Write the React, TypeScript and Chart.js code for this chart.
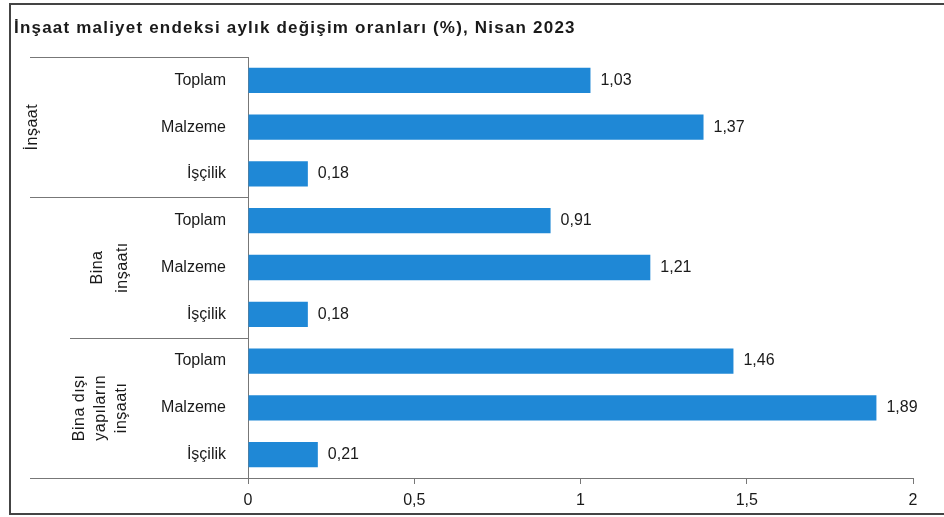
import React, { useEffect, useRef } from "react";
import { Chart, registerables } from "chart.js";

Chart.register(...registerables);

const TITLE = "İnşaat maliyet endeksi aylık değişim oranları (%), Nisan 2023";
const CATEGORIES = [
  "Toplam", "Malzeme", "İşçilik",
  "Toplam", "Malzeme", "İşçilik",
  "Toplam", "Malzeme", "İşçilik",
];
const GROUPS: string[][] = [["İnşaat"], ["Bina", "inşaatı"], ["Bina dışı", "yapıların", "inşaatı"]];
const VALUES = [1.03, 1.37, 0.18, 0.91, 1.21, 0.18, 1.46, 1.89, 0.21];
const X_TICKS = [0, 0.5, 1, 1.5, 2];

const FONT = "'Liberation Sans', Arial, sans-serif";
const fmt = (v: number) => String(v).replace(".", ",");

export default function App() {
  const ref = useRef<HTMLCanvasElement | null>(null);
  useEffect(() => {
    if (!ref.current) return;
    const decor = {
      id: "decor",
      beforeDraw(chart: any) {
        const ctx = chart.ctx;
        ctx.save();
        ctx.fillStyle = "#fff";
        ctx.fillRect(0, 0, chart.width, chart.height);
        // frame
        ctx.strokeStyle = "#444";
        ctx.lineWidth = 2;
        ctx.beginPath();
        ctx.moveTo(944, 4);
        ctx.lineTo(10, 4);
        ctx.lineTo(10, 514);
        ctx.lineTo(944, 514);
        ctx.stroke();
        // title
        ctx.fillStyle = "#1a1a1a";
        ctx.font = `bold 17px ${FONT}`;
        (ctx as any).letterSpacing = "1.2px";
        ctx.textBaseline = "middle";
        ctx.textAlign = "left";
        ctx.fillText(TITLE, 14, 28);
        ctx.restore();
      },
      afterDraw(chart: any) {
        const ctx = chart.ctx;
        const y = chart.scales.y;
        const area = chart.chartArea;
        const bound = (i: number) => (y.getPixelForValue(i) + y.getPixelForValue(i - 1)) / 2;
        ctx.save();
        ctx.strokeStyle = "#777";
        ctx.lineWidth = 1;
        const lines: [number, number][] = [
          [area.top, 30],
          [bound(3), 30],
          [bound(6), 70],
          [area.bottom, 30],
        ];
        for (const [py, x0] of lines) {
          ctx.beginPath();
          ctx.moveTo(x0, Math.round(py) + 0.5);
          ctx.lineTo(area.left, Math.round(py) + 0.5);
          ctx.stroke();
        }
        // group labels
        const xs = [[33], [98, 123], [80, 101, 122]];
        ctx.fillStyle = "#1a1a1a";
        ctx.font = `16px ${FONT}`;
        (ctx as any).letterSpacing = "0.5px";
        ctx.textAlign = "center";
        ctx.textBaseline = "middle";
        GROUPS.forEach((g, gi) => {
          const cy = y.getPixelForValue(gi * 3 + 1);
          g.forEach((line, li) => {
            ctx.save();
            ctx.translate(xs[gi][li], cy);
            ctx.rotate(-Math.PI / 2);
            ctx.fillText(line, 0, 0);
            ctx.restore();
          });
        });
        (ctx as any).letterSpacing = "0px";
        // value labels
        const meta = chart.getDatasetMeta(0);
        ctx.textAlign = "left";
        ctx.font = `16px ${FONT}`;
        meta.data.forEach((bar: any, i: number) => {
          ctx.fillText(fmt(VALUES[i]), bar.x + 10, bar.y);
        });
        ctx.restore();
      },
    };
    const chart = new Chart(ref.current, {
      type: "bar",
      data: {
        labels: CATEGORIES,
        datasets: [
          {
            data: VALUES,
            backgroundColor: "#1f88d6",
            borderWidth: 0,
            categoryPercentage: 1,
            barPercentage: 0.54,
          },
        ],
      },
      options: {
        indexAxis: "y",
        animation: false,
        responsive: false,
        layout: { padding: { left: 0, right: 31, top: 57, bottom: 0 } },
        plugins: { legend: { display: false }, tooltip: { enabled: false } },
        scales: {
          x: {
            min: 0,
            max: 2,
            afterFit: (s: any) => { s.height = 39; },
            afterBuildTicks: (s: any) => { s.ticks = X_TICKS.map((v) => ({ value: v })); },
            grid: { drawOnChartArea: false, tickLength: 6, color: "#777" },
            border: { color: "#777" },
            ticks: {
              padding: 7,
              color: "#1a1a1a",
              font: { family: FONT, size: 16 },
              callback: (v: any) => fmt(Number(v)),
            },
          },
          y: {
            afterFit: (s: any) => { s.width = 248; },
            grid: { display: false, drawTicks: false },
            border: { color: "#777" },
            ticks: {
              padding: 22,
              color: "#1a1a1a",
              font: { family: FONT, size: 16 },
            },
          },
        },
      },
      plugins: [decor],
    });
    return () => chart.destroy();
  }, []);
  return (
    <div style={{ position: "fixed", left: 0, top: 0, width: 944, height: 517, background: "#fff" }}>
      <canvas ref={ref} width={944} height={517} style={{ width: 944, height: 517, display: "block" }} />
    </div>
  );
}
